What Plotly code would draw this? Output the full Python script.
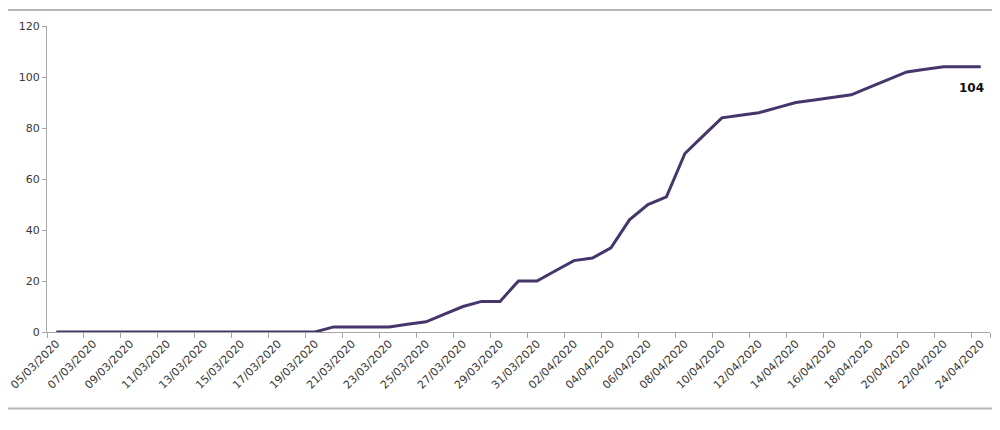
import plotly.graph_objects as go
import pandas as pd

# daily dates 05/03/2020 .. 24/04/2020
dates = [d.strftime("%d/%m/%Y") for d in pd.date_range("2020-03-05", "2020-04-24", freq="D")]

# cumulative counts
values = [0, 0, 0, 0, 0, 0, 0, 0, 0, 0,
          0, 0, 0, 0, 0, 2, 2, 2, 2, 3,
          4, 7, 10, 12, 12, 20, 20, 24, 28, 29,
          33, 44, 50, 53, 70, 77, 84, 85, 86, 88,
          90, 91, 92, 93, 96, 99, 102, 103, 104, 104,
          104]

shown_ticks = dates[::2]
y_ticks = [0, 20, 40, 60, 80, 100, 120]

line_color = "#45356b"
axis_color = "#a6a6a6"
font_main = "DejaVu Sans"

fig = go.Figure()

fig.add_trace(go.Scatter(
    x=dates,
    y=values,
    mode="lines",
    line=dict(color=line_color, width=3),
    showlegend=False,
    hoverinfo="x+y"
))

# label at the last point
fig.add_annotation(
    x=dates[-1], y=values[-1],
    text="<b>%d</b>" % values[-1],
    showarrow=False,
    xshift=-9, yshift=-21,
    font=dict(family=font_main, size=12, color="#111111")
)

# outer frame lines (top and bottom)
for yy in (1.052, -0.250):
    fig.add_shape(
        type="line", xref="paper", yref="paper",
        x0=-0.06, x1=1.03, y0=yy, y1=yy,
        line=dict(color="#b5b5b5", width=2)
    )

# page body adds an 8px offset, margins are reduced by that amount
fig.update_layout(
    width=1000, height=430,
    margin=dict(l=39, r=18, t=18, b=106),
    plot_bgcolor="white",
    paper_bgcolor="white",
    font=dict(family=font_main, size=11, color="#383838"),
    xaxis=dict(
        type="category",
        categoryorder="array",
        categoryarray=dates,
        range=[-0.5, len(dates) - 0.5],
        tickmode="array",
        tickvals=shown_ticks,
        ticktext=shown_ticks,
        tickangle=-45,
        tickson="boundaries",
        ticks="outside",
        ticklen=5,
        tickcolor=axis_color,
        showline=True,
        linecolor=axis_color,
        linewidth=1,
        showgrid=False,
        zeroline=False,
        automargin=False,
        tickfont=dict(size=11, color="#383838")
    ),
    yaxis=dict(
        range=[0, 120],
        tickvals=y_ticks,
        ticks="outside",
        ticklen=4,
        tickcolor=axis_color,
        showline=True,
        linecolor=axis_color,
        linewidth=1,
        showgrid=False,
        zeroline=False,
        automargin=False,
        tickfont=dict(size=11, color="#383838")
    )
)

fig.write_html("out.html")
